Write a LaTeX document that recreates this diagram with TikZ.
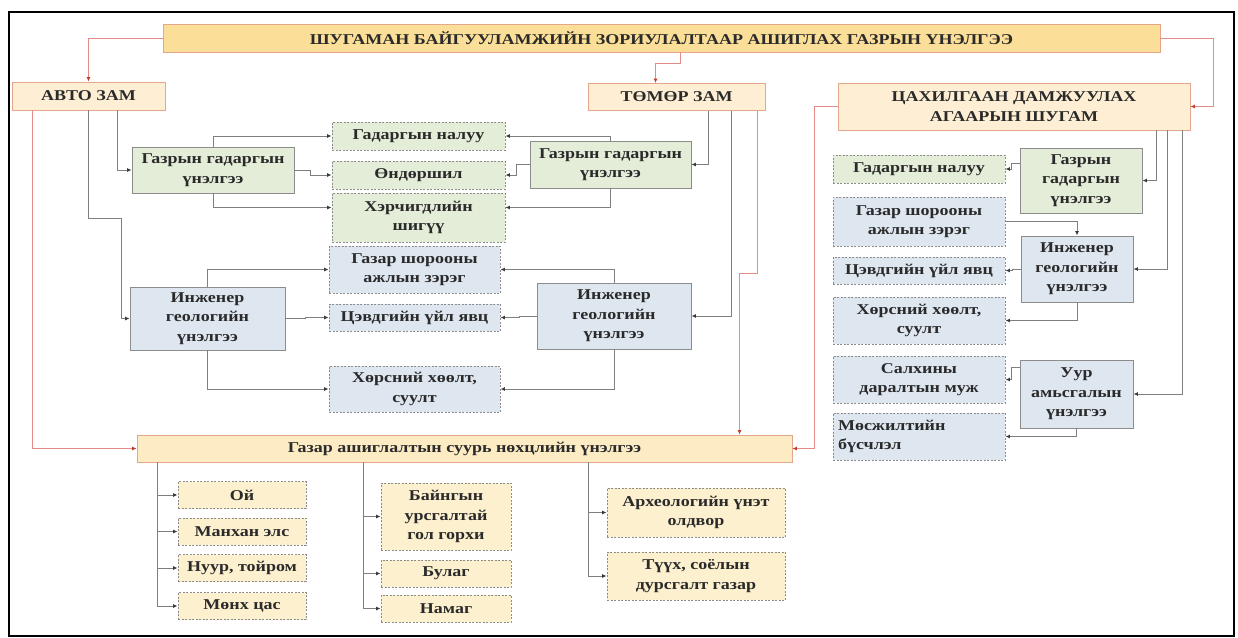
\documentclass[tikz,border=0pt]{standalone}
\usepackage{fontspec}
\setmainfont{Liberation Serif}[FakeStretch=1.2]
\usepackage{xcolor}
\usepackage{tikz}
\usetikzlibrary{arrows.meta, positioning}

\definecolor{titlefill}{HTML}{FBDF98}
\definecolor{headfill}{HTML}{FEEFD4}
\definecolor{headline}{HTML}{E4A78C}
\definecolor{gazarfill}{HTML}{FDEBC4}
\definecolor{itemfill}{HTML}{FDF0CF}
\definecolor{greenfill}{HTML}{E3EDD8}
\definecolor{bluefill}{HTML}{DEE6F0}
\definecolor{boxgray}{HTML}{8C8C8C}
\definecolor{linegray}{HTML}{7F7F7F}
\definecolor{tipgray}{HTML}{3A3A3A}
\definecolor{redline}{HTML}{E38C8A}
\definecolor{redtip}{HTML}{C0392B}
\definecolor{textdark}{HTML}{2A2A2A}

\begin{document}
\begin{tikzpicture}[x=1pt, y=-1pt,
    font=\fontsize{15}{19.5}\selectfont\bfseries,
    box/.style={draw=boxgray, line width=0.9pt, align=center, inner sep=1pt, text=textdark},
    dbox/.style={box, dash pattern=on 2pt off 1.5pt},
    greensolid/.style={box, fill=greenfill},
    greendash/.style={dbox, fill=greenfill},
    bluesolid/.style={box, fill=bluefill},
    bluedash/.style={dbox, fill=bluefill},
    headbox/.style={box, draw=headline, fill=headfill},
    itembox/.style={dbox, fill=itemfill},
    conn/.style={draw=linegray, line width=1pt, -{Latex[length=4.5pt,width=4pt,color=tipgray]}},
    redconn/.style={draw=redline, line width=1pt, -{Latex[length=4.5pt,width=4pt,color=redtip]}}]

    \useasboundingbox (0,0) rectangle (1238,637);
    % outer frame of the page
    \draw[line width=1.5pt] (9,12) rectangle (1234,636);

    % 1. Title bar
    \node[headbox, fill=titlefill, minimum width=997pt, minimum height=28pt] (title) at (661.5,38)
        {ШУГАМАН БАЙГУУЛАМЖИЙН ЗОРИУЛАЛТААР АШИГЛАХ ГАЗРЫН ҮНЭЛГЭЭ};

    % 2. Three kinds of line structure
    \node[headbox, minimum width=153pt, minimum height=28pt] (avto) at (88.5,96) {АВТО ЗАМ};
    \node[headbox, minimum width=177pt, minimum height=27pt] (tomor) at (676.5,97) {ТӨМӨР ЗАМ};
    \node[headbox, minimum width=352pt, minimum height=47pt] (tsakh) at (1014,106.5)
        {ЦАХИЛГААН ДАМЖУУЛАХ\\АГААРЫН ШУГАМ};

    % 3. Surface assessment (green)
    \node[greensolid, minimum width=162pt, minimum height=46pt] (gl) at (213,170) {Газрын гадаргын\\үнэлгээ};
    \node[greendash, minimum width=173pt, minimum height=28pt] (nal) at (418.5,136) {Гадаргын налуу};
    \node[greendash, minimum width=173pt, minimum height=28pt] (ond) at (418.5,175) {Өндөршил};
    \node[greendash, minimum width=173pt, minimum height=49pt] (her) at (418.5,217.5) {Хэрчигдлийн\\шигүү};
    \node[greensolid, minimum width=161pt, minimum height=47pt] (gr) at (610.5,164.5) {Газрын гадаргын\\үнэлгээ};

    % 4. Engineering geology (blue)
    \node[bluesolid, minimum width=155pt, minimum height=63pt] (ingl) at (207.5,318.5) {Инженер\\геологийн\\үнэлгээ};
    \node[bluedash, minimum width=171pt, minimum height=47pt] (sh) at (414.5,269.5) {Газар шорооны\\ажлын зэрэг};
    \node[bluedash, minimum width=171pt, minimum height=27pt] (tsv) at (414.5,317.5) {Цэвдгийн үйл явц};
    \node[bluedash, minimum width=171pt, minimum height=46pt] (kh) at (414.5,389) {Хөрсний хөөлт,\\суулт};
    \node[bluesolid, minimum width=154pt, minimum height=66pt] (ir) at (614,316) {Инженер\\геологийн\\үнэлгээ};

    % 5. Right column (power line)
    \node[greendash, minimum width=172pt, minimum height=28pt] (rnal) at (919,169) {Гадаргын налуу};
    \node[greensolid, minimum width=122pt, minimum height=65pt] (rg) at (1081,180.5) {Газрын\\гадаргын\\үнэлгээ};
    \node[bluedash, minimum width=172pt, minimum height=49pt] (rsh) at (919,221.5) {Газар шорооны\\ажлын зэрэг};
    \node[bluesolid, minimum width=112pt, minimum height=66pt] (ri) at (1077,269) {Инженер\\геологийн\\үнэлгээ};
    \node[bluedash, minimum width=172pt, minimum height=27pt] (rtsv) at (919,270.5) {Цэвдгийн үйл явц};
    \node[bluedash, minimum width=172pt, minimum height=47pt] (rkh) at (919,320.5) {Хөрсний хөөлт,\\суулт};
    \node[bluedash, minimum width=172pt, minimum height=47pt] (rsal) at (919,379.5) {Салхины\\даралтын муж};
    \node[bluesolid, minimum width=113pt, minimum height=68pt] (ru) at (1076.5,394) {Уур\\амьсгалын\\үнэлгээ};
    \node[bluedash, text width=162pt, inner xsep=5pt, minimum height=47pt, align=left] (rmos) at (919,436.5) {Мөсжилтийн\\бүсчлэл};

    % 6. Land use bar and its items
    \node[headbox, fill=gazarfill, minimum width=655pt, minimum height=27pt] (gazar) at (464.5,448.5)
        {Газар ашиглалтын суурь нөхцлийн үнэлгээ};
    \node[itembox, minimum width=128pt, minimum height=27pt] (oi) at (242,495) {Ой};
    \node[itembox, minimum width=128pt, minimum height=27pt] (manh) at (242,531.5) {Манхан элс};
    \node[itembox, minimum width=128pt, minimum height=27pt] (nuur) at (242,568) {Нуур, тойром};
    \node[itembox, minimum width=128pt, minimum height=27pt] (monkh) at (242,606) {Мөнх цас};
    \node[itembox, minimum width=130pt, minimum height=67pt] (bain) at (446,516.5) {Байнгын\\урсгалтай\\гол горхи};
    \node[itembox, minimum width=130pt, minimum height=27pt] (bulag) at (446,573.5) {Булаг};
    \node[itembox, minimum width=130pt, minimum height=27pt] (namag) at (446,608.5) {Намаг};
    \node[itembox, minimum width=178pt, minimum height=49pt] (arkh) at (696,512.5) {Археологийн үнэт\\олдвор};
    \node[itembox, minimum width=178pt, minimum height=48pt] (tuukh) at (696,576) {Түүх, соёлын\\дурсгалт газар};

    % 7. Red connectors
    \draw[redconn] (title.west) -| (avto.north);
    \draw[redconn] ([xshift=19pt]title.south) -- ++(0,11) -| ([xshift=-21pt]tomor.north);
    \draw[redconn] (title.east) -- ++(53,0) |- (tsakh.east);
    \draw[redconn] ([xshift=-56pt]avto.south) |- (gazar.west);
    \draw[redconn] ([xshift=81pt]tomor.south) -- ++(0,163) -| ([xshift=275pt]gazar.north);
    \draw[redconn] (tsakh.west) -- ++(-23,0) |- (gazar.east);

    % 8. Gray connectors from the three structures
    \draw[conn] ([xshift=29pt]avto.south) |- (gl.west);
    \draw[conn] (avto.south) -- ++(0,108) -| ([xshift=-8pt]ingl.west) -- (ingl.west);
    \draw[conn] ([xshift=32pt]tomor.south) |- (gr.east);
    \draw[conn] ([xshift=55pt]tomor.south) |- (ir.east);
    \draw[conn] ([xshift=142pt]tsakh.south) |- (rg.east);
    \draw[conn] ([xshift=153pt]tsakh.south) |- (ri.east);
    \draw[conn] ([xshift=168pt]tsakh.south) |- (ru.east);

    % surface
    \draw[conn] (gl.north) |- (nal.west);
    \draw[conn] (gl.east) -- ++(16,0) |- (ond.west);
    \draw[conn] (gl.south) |- ([yshift=10pt]her.west);
    \draw[conn] (gr.north) |- (nal.east);
    \draw[conn] (gr.west) -- ++(-13,0) |- (ond.east);
    \draw[conn] (gr.south) |- ([yshift=10pt]her.east);

    % engineering geology
    \draw[conn] (ingl.north) |- (sh.west);
    \draw[conn] (ingl.east) -- ++(20,0) |- (tsv.west);
    \draw[conn] (ingl.south) |- (kh.west);
    \draw[conn] (ir.north) |- (sh.east);
    \draw[conn] (ir.west) -- ++(-17,0) |- (tsv.east);
    \draw[conn] (ir.south) |- (kh.east);

    % right column
    \draw[conn] ([yshift=17pt]rg.west) -- ++(-8,0) |- (rnal.east);
    \draw[conn] (rsh.east) -| (ri.north);
    \draw[conn] (ri.west) -- ++(-8,0) |- (rtsv.east);
    \draw[conn] (ri.south) |- (rkh.east);
    \draw[conn] ([yshift=27pt]ru.west) -- ++(-8,0) |- (rsal.east);
    \draw[conn] (ru.south) |- (rmos.east);

    % 9. Land use branches
    \draw[conn] ([xshift=-307pt]gazar.south) |- (oi.west);
    \draw[conn] ([xshift=-307pt]gazar.south) |- (manh.west);
    \draw[conn] ([xshift=-307pt]gazar.south) |- (nuur.west);
    \draw[conn] ([xshift=-307pt]gazar.south) |- (monkh.west);
    \draw[conn] ([xshift=-101pt]gazar.south) |- (bain.west);
    \draw[conn] ([xshift=-101pt]gazar.south) |- (bulag.west);
    \draw[conn] ([xshift=-101pt]gazar.south) |- (namag.west);
    \draw[conn] ([xshift=124pt]gazar.south) |- (arkh.west);
    \draw[conn] ([xshift=124pt]gazar.south) |- (tuukh.west);

\end{tikzpicture}
\end{document}
